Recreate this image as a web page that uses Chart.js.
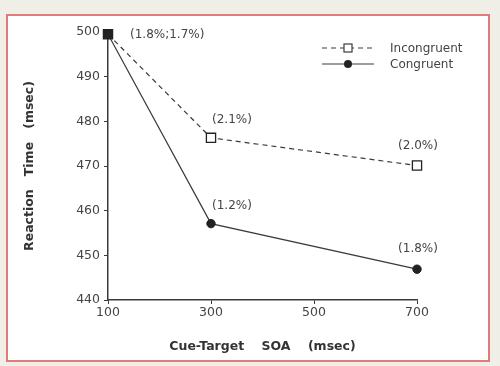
<!DOCTYPE html>
<html>
<head>
<meta charset="utf-8">
<script src="https://cdn.jsdelivr.net/npm/chart.js@4"></script>
<style>
  html, body { margin: 0; padding: 0; background: #f0efe7; }
  #wrap { width: 500px; height: 366px; position: relative; }
</style>
</head>
<body>
<div id="wrap"><canvas id="grafico"></canvas></div>
<script>
// valores
const soa = [100, 300, 700];
const incongruente = [499.5, 476.3, 470.1];
const congruente = [499.5, 457.1, 446.9];
const etiquetasIncong = ["(1.8%;1.7%)", "(2.1%)", "(2.0%)"];
const etiquetasCong = ["", "(1.2%)", "(1.8%)"];
const ticksX = [100, 300, 500, 700];
const ticksY = [440, 450, 460, 470, 480, 490, 500];

const gris = "#3a3a3a";
const texto = "#444";
const fuente = "'DejaVu Sans', sans-serif";

// marco blanco con borde rojo
const marco = {
    id: "marco",
    beforeDraw(chart) {
        const c = chart.ctx;
        c.save();
        c.fillStyle = "#f0efe7";
        c.fillRect(0, 0, chart.width, chart.height);
        c.fillStyle = "#fff";
        c.fillRect(7, 15, 482, 346);
        c.strokeStyle = "#e07b7b";
        c.lineWidth = 2;
        c.strokeRect(7, 15, 482, 346);
        c.restore();
    },
};

// porcentajes de error junto a cada punto
const etiquetas = {
    id: "etiquetas",
    afterDatasetsDraw(chart) {
        const c = chart.ctx;
        c.save();
        c.fillStyle = texto;
        c.font = "12px " + fuente;
        c.textBaseline = "middle";
        chart.data.datasets.forEach((ds, d) => {
            const meta = chart.getDatasetMeta(d);
            ds.etiquetas.forEach((t, i) => {
                if (!t) return;
                const p = meta.data[i];
                if (i === 0) { c.textAlign = "left"; c.fillText(t, p.x + 22, p.y + 1); }
                else if (i === 1) { c.textAlign = "left"; c.fillText(t, p.x + 1, p.y - 18); }
                else { c.textAlign = "center"; c.fillText(t, p.x + 1, p.y - 20); }
            });
        });
        c.restore();
    },
};

// leyenda con muestra de linea y marcador
const leyenda = {
    id: "leyenda",
    afterDraw(chart) {
        const c = chart.ctx;
        c.save();
        c.strokeStyle = gris;
        c.lineWidth = 1.2;
        chart.data.datasets.forEach((ds, d) => {
            const y = 48 + d * 16;
            c.setLineDash(ds.borderDash || []);
            c.beginPath(); c.moveTo(322, y); c.lineTo(374, y); c.stroke();
            c.setLineDash([]);
            if (ds.pointStyle === "rect") {
                c.fillStyle = "#fff";
                c.fillRect(344, y - 4, 8, 8);
                c.strokeRect(344, y - 4, 8, 8);
            } else {
                c.fillStyle = "#222";
                c.beginPath(); c.arc(348, y, 4, 0, Math.PI * 2); c.fill();
            }
            c.fillStyle = texto;
            c.font = "12px " + fuente;
            c.textAlign = "left";
            c.textBaseline = "middle";
            c.fillText(ds.label, 390, y + 1);
        });
        c.restore();
    },
};

new Chart(document.getElementById("grafico").getContext("2d"), {
    type: "line",
    data: {
        datasets: [
            {
                label: "Incongruent",
                data: soa.map((x, i) => ({ x, y: incongruente[i] })),
                etiquetas: etiquetasIncong,
                borderColor: gris, borderWidth: 1.2, borderDash: [5, 4],
                pointStyle: "rect", pointRadius: 6.5, pointBorderWidth: 1.3,
                pointBorderColor: "#222", pointBackgroundColor: ["#222", "#fff", "#fff"],
                tension: 0, order: 0, clip: false,
            },
            {
                label: "Congruent",
                data: soa.map((x, i) => ({ x, y: congruente[i] })),
                etiquetas: etiquetasCong,
                borderColor: gris, borderWidth: 1.2,
                pointStyle: "circle", pointRadius: 4.2, pointBorderWidth: 1,
                pointBorderColor: "#222", pointBackgroundColor: "#222",
                tension: 0, order: 1, clip: false,
            },
        ],
    },
    options: {
        responsive: true,
        maintainAspectRatio: false,
        animation: false,
        events: [],
        layout: { padding: { top: 32, right: 83, left: 0, bottom: 0 } },
        plugins: { legend: { display: false }, tooltip: { enabled: false } },
        scales: {
            x: {
                type: "linear", min: 100, max: 700,
                afterBuildTicks: s => { s.ticks = ticksX.map(v => ({ value: v })); },
                afterFit: s => { s.height = 66; },
                grid: { drawOnChartArea: false, drawTicks: true, tickLength: 4, color: gris },
                border: { color: gris, width: 1.5 },
                ticks: { color: texto, font: { family: fuente, size: 12.5 }, padding: 1, maxRotation: 0 },
                title: {
                    display: true, text: "Cue-Target    SOA    (msec)", color: "#333",
                    font: { family: fuente, size: 12.5, weight: "bold" }, padding: { bottom: 12 },
                },
            },
            y: {
                min: 440, max: 500,
                afterBuildTicks: s => { s.ticks = ticksY.map(v => ({ value: v })); },
                afterFit: s => { s.width = 108; },
                grid: { drawOnChartArea: false, drawTicks: true, tickLength: 4, color: gris },
                border: { color: gris, width: 1.5 },
                ticks: { color: texto, font: { family: fuente, size: 12.5 }, padding: 4 },
                title: {
                    display: true, text: "Reaction   Time   (msec)", color: "#333",
                    font: { family: fuente, size: 12.5, weight: "bold" }, padding: { top: 22 },
                },
            },
        },
    },
    plugins: [marco, etiquetas, leyenda],
});
</script>
</body>
</html>
